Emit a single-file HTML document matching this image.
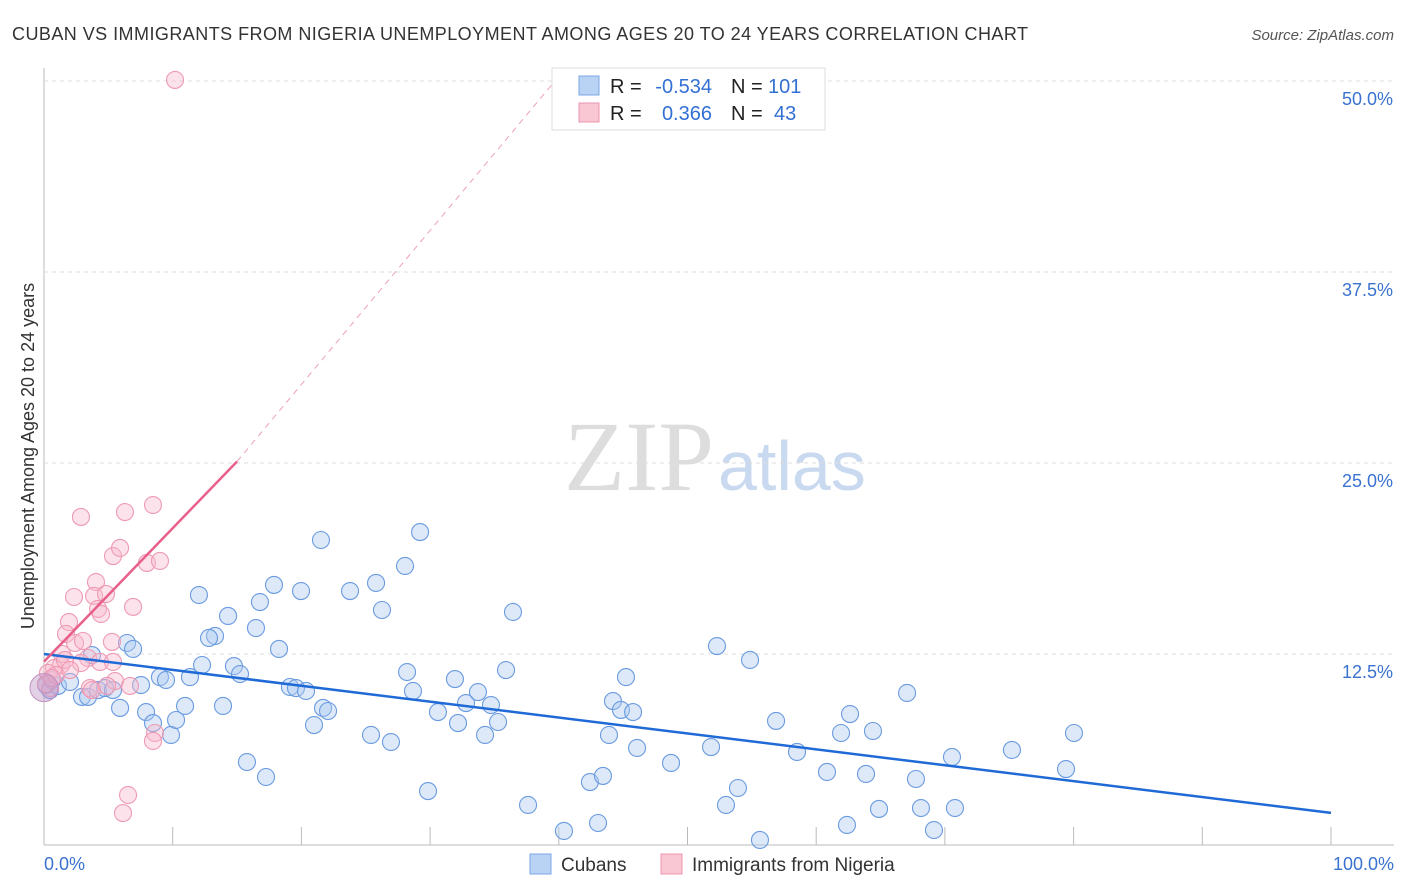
<!DOCTYPE html>
<html><head><meta charset="utf-8"><style>
body{margin:0;background:#fff;font-family:"Liberation Sans",sans-serif;}
svg{display:block}
</style></head><body>
<svg id="chart" width="1406" height="892">
<text x="12" y="40" font-size="18" fill="#333" textLength="1016">CUBAN VS IMMIGRANTS FROM NIGERIA UNEMPLOYMENT AMONG AGES 20 TO 24 YEARS CORRELATION CHART</text>
<text x="1394" y="40" font-size="15" fill="#555" font-style="italic" text-anchor="end">Source: ZipAtlas.com</text>
<text x="714" y="490" font-size="100" fill="#ddd" text-anchor="end" font-family="Liberation Serif">ZIP</text>
<text x="718" y="490" font-size="70" fill="#c9d9ef">atlas</text>
<text transform="translate(34,456) rotate(-90)" font-size="18" fill="#333" text-anchor="middle">Unemployment Among Ages 20 to 24 years</text>
<g id="grid"></g><g id="marks"></g>
<g>
<rect x="552" y="68" width="273" height="62" fill="#fff" stroke="#ddd"/>
<rect x="579" y="76" width="20" height="19" fill="#b9d3f5" stroke="#7aa7e6"/>
<rect x="579" y="103" width="20" height="19" fill="#f9c6d4" stroke="#ec95ae"/>
<text x="610" y="93" font-size="20" fill="#222">R =</text>
<text x="712" y="93" font-size="20" fill="#3370d4" text-anchor="end">-0.534</text>
<text x="731" y="93" font-size="20" fill="#222">N =</text>
<text x="768" y="93" font-size="20" fill="#3370d4">101</text>
<text x="610" y="120" font-size="20" fill="#222">R =</text>
<text x="712" y="120" font-size="20" fill="#3370d4" text-anchor="end">0.366</text>
<text x="731" y="120" font-size="20" fill="#222">N =</text>
<text x="774" y="120" font-size="20" fill="#3370d4">43</text>
</g>
<g>
<rect x="530" y="854" width="21" height="20" fill="#b9d3f5" stroke="#7aa7e6"/>
<text x="561" y="871" font-size="19" fill="#333">Cubans</text>
<rect x="661" y="854" width="21" height="20" fill="#f9c6d4" stroke="#ec95ae"/>
<text x="692" y="871" font-size="19" fill="#333">Immigrants from Nigeria</text>
</g>
</svg>
<script>
const xTicks=[0,10,20,30,40,50,60,70,80,90,100];
const yTicks=[12.5,25,37.5,50];
const yTickLabels=["12.5%","25.0%","37.5%","50.0%"];
const xEndLabels=["0.0%","100.0%"];
const bluePx=[[50,690],[58,686],[70,682],[82,697],[88,697],[92,655],[98,690],[105,688],[113,690],[120,708],[127,643],[133,649],[141,685],[146,712],[153,723],[160,677],[166,680],[171,735],[176,720],[185,706],[190,677],[199,595],[202,665],[215,636],[209,638],[223,706],[228,616],[234,666],[240,674],[247,762],[256,628],[260,602],[266,777],[274,585],[279,649],[290,687],[296,688],[301,591],[306,691],[314,725],[323,708],[328,711],[321,540],[350,591],[371,735],[376,583],[382,610],[391,742],[405,566],[407,672],[413,691],[420,532],[428,791],[438,712],[455,679],[458,723],[466,703],[478,692],[485,735],[491,705],[498,722],[506,670],[513,612],[528,805],[564,831],[590,782],[598,823],[603,776],[609,735],[613,701],[621,710],[626,677],[633,712],[637,748],[671,763],[711,747],[717,646],[726,805],[738,788],[750,660],[760,840],[776,721],[797,752],[827,772],[841,733],[847,825],[850,714],[866,774],[873,731],[879,809],[907,693],[916,779],[921,808],[934,830],[952,757],[955,808],[1012,750],[1066,769],[1074,733],[46,685],[52,680]];
const pinkPx=[[153,505],[81,517],[125,512],[113,556],[120,548],[147,563],[160,561],[96,582],[74,597],[94,596],[106,594],[98,609],[133,607],[101,614],[69,622],[66,634],[62,654],[75,643],[83,641],[88,658],[112,642],[100,662],[113,662],[115,681],[107,686],[130,686],[81,663],[61,665],[54,668],[48,673],[50,688],[46,684],[56,675],[90,688],[155,733],[153,741],[128,795],[123,813],[175,80],[92,690],[65,660],[70,670],[52,678]];
const cubanX=bluePx.map(p=>+((p[0]-44)/12.87).toFixed(2));
const cubanY=bluePx.map(p=>+((845-p[1])*12.5/191).toFixed(2));
const nigX=pinkPx.map(p=>+((p[0]-44)/12.87).toFixed(2));
const nigY=pinkPx.map(p=>+((845-p[1])*12.5/191).toFixed(2));
const blueTrend=[[0,12.5],[100,2.1]];
const pinkTrend=[[0,12.0],[15,25.1]];
const pinkDash=[[15,25.1],[39.7,50]];
const X=v=>44+v*12.87, Y=v=>845-v*191/12.5;
const NS="http://www.w3.org/2000/svg";
function mk(t,a,p){const e=document.createElementNS(NS,t);for(const k in a)e.setAttribute(k,a[k]);p.appendChild(e);return e;}
const g=document.getElementById('grid'), m=document.getElementById('marks');
mk('line',{x1:44,y1:68,x2:44,y2:845,stroke:'#bbb'},g);
mk('line',{x1:44,y1:845,x2:1394,y2:845,stroke:'#bbb'},g);
yTicks.forEach((t,i)=>{const l=mk('line',{x1:44,y1:Y(t),x2:1394,y2:Y(t),stroke:'#ddd','stroke-dasharray':'4,4'},g);


const tx=mk('text',{x:1393,y:Y(t)+24,'font-size':18,fill:'#3a72d0','text-anchor':'end'},g);tx.textContent=yTickLabels[i];

});
xTicks.forEach(t=>{const l=mk('line',{x1:X(t),y1:827,x2:X(t),y2:845,stroke:'#bbb'},g);

});
[[44,'start',0],[1394,'end',1]].forEach(([x,a,i])=>{const tx=mk('text',{x:x,y:870,'font-size':18,fill:'#3a72d0','text-anchor':a},g);tx.textContent=xEndLabels[i];

});
cubanX.forEach((x,i)=>{const c=mk('circle',{cx:X(x),cy:Y(cubanY[i]),r:8.5,fill:'rgba(170,200,240,0.4)',stroke:'#6a9be0','stroke-width':1.1},m);

});
nigX.forEach((x,i)=>{const c=mk('circle',{cx:X(x),cy:Y(nigY[i]),r:8.5,fill:'rgba(248,185,205,0.4)',stroke:'#ee9ab3','stroke-width':1.1},m);

});
const big=mk('circle',{cx:X(0),cy:Y(10.3),r:14,fill:'rgba(190,150,200,0.45)',stroke:'#c090c0'},m);


const bl=mk('line',{x1:X(blueTrend[0][0]),y1:Y(blueTrend[0][1]),x2:X(blueTrend[1][0]),y2:Y(blueTrend[1][1]),stroke:'#1f6ad6','stroke-width':2.5},m);


const pl=mk('line',{x1:X(pinkTrend[0][0]),y1:Y(pinkTrend[0][1]),x2:X(pinkTrend[1][0]),y2:Y(pinkTrend[1][1]),stroke:'#e8608a','stroke-width':2.5},m);


const pd=mk('line',{x1:X(pinkDash[0][0]),y1:Y(pinkDash[0][1]),x2:X(pinkDash[1][0]),y2:Y(pinkDash[1][1]),stroke:'#eea0b8','stroke-width':1,'stroke-dasharray':'6,5'},m);


</script>
</body></html>
